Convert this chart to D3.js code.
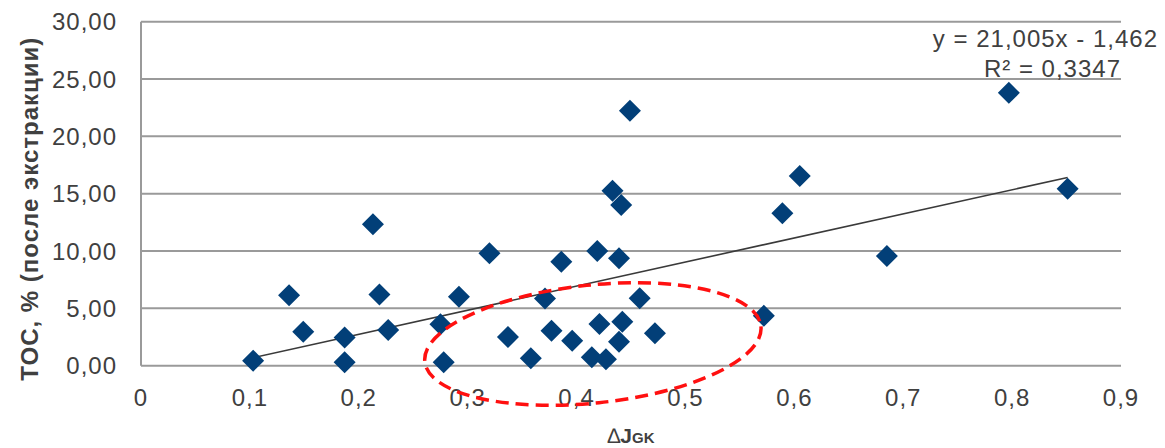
<!DOCTYPE html>
<html>
<head>
<meta charset="utf-8">
<script src="https://cdn.jsdelivr.net/npm/d3@7"></script>
<style>
  body { margin: 0; background: #fff; }
  text { font-family: "Liberation Sans", Arial, sans-serif; }
</style>
</head>
<body>
<div id="chart"></div>
<script>
// values
var xVals = [0.103, 0.136, 0.149, 0.187, 0.187, 0.213, 0.219, 0.227, 0.275, 0.278,
             0.292, 0.320, 0.337, 0.358, 0.371, 0.377, 0.386, 0.396, 0.414, 0.419,
             0.421, 0.427, 0.433, 0.439, 0.439, 0.441, 0.442, 0.449, 0.458, 0.472,
             0.572, 0.589, 0.605, 0.685, 0.797, 0.851];
var yVals = [0.44, 6.14, 2.96, 2.47, 0.29, 12.33, 6.22, 3.11, 3.61, 0.30,
             6.02, 9.80, 2.50, 0.64, 5.87, 3.05, 9.07, 2.18, 0.73, 10.00,
             3.64, 0.56, 15.26, 9.36, 2.09, 14.01, 3.84, 22.23, 5.88, 2.82,
             4.36, 13.29, 16.54, 9.56, 23.80, 15.43];
var xTicks = [0, 0.1, 0.2, 0.3, 0.4, 0.5, 0.6, 0.7, 0.8, 0.9];
var yTicks = [0, 5, 10, 15, 20, 25, 30];
var slope = 21.005, intercept = -1.462;
var eqText = "y = 21,005x - 1,462";
var r2Text = "R² = 0,3347";
// highlighted group (centre in data units)
var ringCentre = [0.415, 1.89];

var W = 1165, H = 448;
var svg = d3.select("#chart").append("svg")
  .attr("width", W).attr("height", H);

var x = d3.scaleLinear().domain([0, 0.9]).range([141, 1121]);
var y = d3.scaleLinear().domain([0, 30]).range([365.7, 21.7]);

var fmtX = function(d) { return d === 0 ? "0" : d3.format(".1f")(d).replace(".", ","); };
var fmtY = function(d) { return d3.format(".2f")(d).replace(".", ","); };

// grid lines
svg.append("g").selectAll("line")
  .data(yTicks)
  .enter().append("line")
  .attr("x1", x(0)).attr("x2", x(0.9))
  .attr("y1", function(d) { return y(d); })
  .attr("y2", function(d) { return y(d); })
  .style("stroke", "#9a9a9a")
  .style("stroke-width", 2);

// left axis line
svg.append("line")
  .attr("x1", x(0)).attr("x2", x(0))
  .attr("y1", y(0)).attr("y2", y(30))
  .style("stroke", "#9a9a9a")
  .style("stroke-width", 2);

// y tick labels
svg.append("g").selectAll("text")
  .data(yTicks)
  .enter().append("text")
  .attr("x", 117)
  .attr("y", function(d) { return y(d); })
  .attr("dy", "0.36em")
  .attr("text-anchor", "end")
  .style("font-size", "24px")
  .style("letter-spacing", "1px")
  .style("fill", "#404040")
  .text(fmtY);

// x tick labels
svg.append("g").selectAll("text")
  .data(xTicks)
  .enter().append("text")
  .attr("x", function(d) { return x(d); })
  .attr("y", 406)
  .attr("text-anchor", "middle")
  .style("font-size", "24px")
  .style("letter-spacing", "1px")
  .style("fill", "#404040")
  .text(fmtX);

// trend line
var xMin = d3.min(xVals), xMax = d3.max(xVals);
svg.append("line")
  .attr("x1", x(xMin)).attr("y1", y(slope * xMin + intercept))
  .attr("x2", x(xMax)).attr("y2", y(slope * xMax + intercept))
  .style("stroke", "#3a3a3a")
  .style("stroke-width", 1.6);

// points (diamonds)
var pts = xVals.map(function(v, i) { return { x: v, y: yVals[i] }; });
svg.append("g").selectAll("path")
  .data(pts)
  .enter().append("path")
  .attr("transform", function(d) { return "translate(" + x(d.x) + "," + y(d.y) + ")"; })
  .attr("d", "M0,-11L11,0L0,11L-11,0Z")
  .style("fill", "#023f78");

// dashed red ring
svg.append("ellipse")
  .attr("cx", 0).attr("cy", 0)
  .attr("rx", 169).attr("ry", 59)
  .attr("transform", "translate(" + x(ringCentre[0]) + "," + y(ringCentre[1]) + ") rotate(-6)")
  .style("fill", "none")
  .style("stroke", "#ff1010")
  .style("stroke-width", 3.5)
  .style("stroke-dasharray", "13,7");

// equation
svg.append("text")
  .attr("x", 1158).attr("y", 47)
  .attr("text-anchor", "end")
  .style("font-size", "24px")
  .style("letter-spacing", "1px")
  .style("fill", "#404040")
  .text(eqText);
svg.append("text")
  .attr("x", 1121).attr("y", 77)
  .attr("text-anchor", "end")
  .style("font-size", "24px")
  .style("letter-spacing", "1px")
  .style("fill", "#404040")
  .text(r2Text);

// axis titles
svg.append("text")
  .attr("transform", "translate(38," + ((y(0) + y(30)) / 2 + 15) + ") rotate(-90)")
  .attr("text-anchor", "middle")
  .style("font-size", "24px")
  .style("font-weight", "bold")
  .style("letter-spacing", "1px")
  .style("fill", "#404040")
  .text("TOC, % (после экстракции)");

var xt = svg.append("text")
  .attr("x", 631).attr("y", 443)
  .attr("text-anchor", "middle")
  .style("fill", "#404040");
xt.append("tspan").style("font-size", "21px").text("∆");
xt.append("tspan").style("font-size", "21px").style("font-weight", "bold").text("J");
xt.append("tspan").style("font-size", "15px").style("font-weight", "bold").text("GK");
</script>
</body>
</html>
